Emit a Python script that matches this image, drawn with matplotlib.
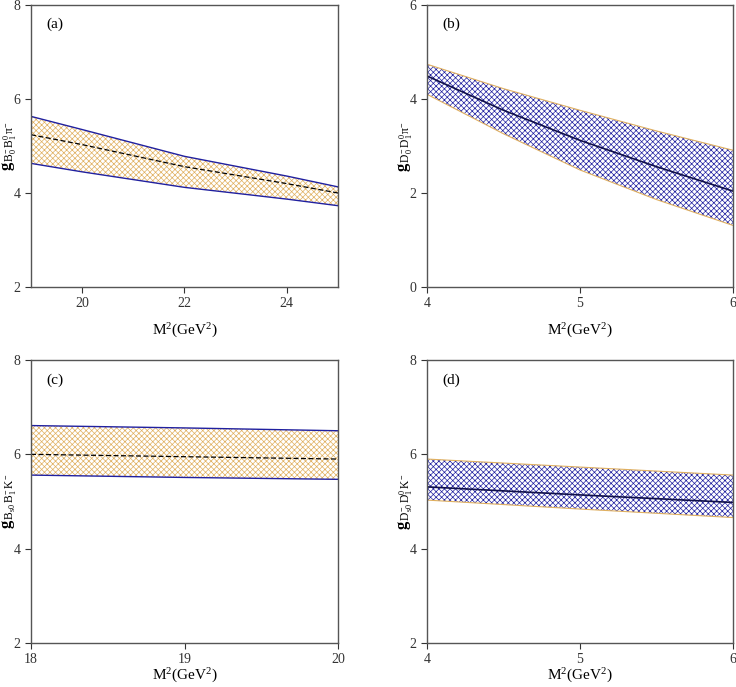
import matplotlib.pyplot as plt
import numpy as np

plt.rcParams['font.family'] = ['Liberation Serif', 'DejaVu Serif']
plt.rcParams['mathtext.fontset'] = 'custom'
plt.rcParams['mathtext.rm'] = 'Liberation Serif'
plt.rcParams['mathtext.it'] = 'Liberation Serif:italic'
plt.rcParams['mathtext.bf'] = 'Liberation Serif:bold'
plt.rcParams['hatch.linewidth'] = 0.5

# panel (a): B sector, pion
m2_a = [19, 20, 22, 24, 25]
up_a = [5.63, 5.35, 4.78, 4.36, 4.13]
mid_a = [5.24, 5.03, 4.56, 4.20, 4.00]
lo_a = [4.63, 4.45, 4.12, 3.87, 3.73]

# panel (b): D sector, pion
m2_b = [4, 4.5, 5, 5.5, 6]
up_b = [4.74, 4.22, 3.76, 3.32, 2.91]
mid_b = [4.49, 3.76, 3.12, 2.56, 2.04]
lo_b = [4.10, 3.26, 2.49, 1.86, 1.31]

# panel (c): B sector, kaon
m2_c = [18, 19, 20]
up_c = [6.61, 6.56, 6.50]
mid_c = [6.00, 5.95, 5.90]
lo_c = [5.56, 5.51, 5.47]

# panel (d): D sector, kaon
m2_d = [4, 5, 6]
up_d = [5.90, 5.73, 5.56]
mid_d = [5.31, 5.14, 4.98]
lo_d = [5.03, 4.84, 4.66]

panels = [
    ("(a)", m2_a, up_a, mid_a, lo_a, (19, 25), [20, 22, 24], (2, 8), [2, 4, 6, 8],
     r"$\mathbf{g}_{\,\mathrm{B_0^{-}\,B_1^0\,\pi^{-}}}$", "B"),
    ("(b)", m2_b, up_b, mid_b, lo_b, (4, 6), [4, 5, 6], (0, 6), [0, 2, 4, 6],
     r"$\mathbf{g}_{\,\mathrm{D_0^{-}\,D_1^0\,\pi^{-}}}$", "D"),
    ("(c)", m2_c, up_c, mid_c, lo_c, (18, 20), [18, 19, 20], (2, 8), [2, 4, 6, 8],
     r"$\mathbf{g}_{\,\mathrm{B_{s0}\,B_1^{-}\,K^{-}}}$", "B"),
    ("(d)", m2_d, up_d, mid_d, lo_d, (4, 6), [4, 5, 6], (2, 8), [2, 4, 6, 8],
     r"$\mathbf{g}_{\,\mathrm{D_{s0}^{-}\,D_1^0\,K^{-}}}$", "D"),
]

blue = "#2020a0"
tan = "#e0b060"

fig = plt.figure(figsize=(7.36, 6.87), dpi=100)
W, H = 736, 687
boxes = [(31, 5, 338, 287), (427, 5, 733, 287), (31, 360, 338, 643), (427, 360, 733, 643)]

for i, ((tag, x, up, mid, lo, xl, xt, yl, yt, ylab, kind), (x0, y0, x1, y1)) in enumerate(zip(panels, boxes)):
    ax = fig.add_axes([x0 / W, 1 - y1 / H, (x1 - x0) / W, (y1 - y0) / H])
    if kind == "B":
        ax.fill_between(x, lo, up, facecolor="none", edgecolor=tan, hatch="x" * 6, linewidth=0)
        ax.plot(x, up, color=blue, lw=1.0)
        ax.plot(x, lo, color=blue, lw=1.0)
        ax.plot(x, mid, color="black", lw=0.9, ls=(0, (4, 2)))
    else:
        ax.fill_between(x, lo, up, facecolor="none", edgecolor=blue, hatch="x" * 6, linewidth=0)
        ax.plot(x, up, color=tan, lw=0.8)
        ax.plot(x, lo, color=tan, lw=0.8)
        ax.plot(x, mid, color="#10104a", lw=1.2)
    ax.set_xlim(*xl)
    ax.set_ylim(*yl)
    ax.set_xticks(xt)
    ax.set_yticks(yt)
    ax.tick_params(direction="out", length=4, labelsize=10, colors="#333333")
    for s in ax.spines.values():
        s.set_color("#555555")
        s.set_linewidth(1.0)
    ax.set_xlabel(r"M$^2$(GeV$^2$)", fontsize=11, labelpad=8 if i < 2 else 0)
    ax.set_ylabel(ylab, fontsize=12)
    ax.yaxis.set_label_coords(-12.0 / (x1 - x0), 0.5)
    ax.text(0.05, 0.93, tag, transform=ax.transAxes, fontsize=11, va="center")

plt.savefig("out.png", dpi=100)
plt.close()
